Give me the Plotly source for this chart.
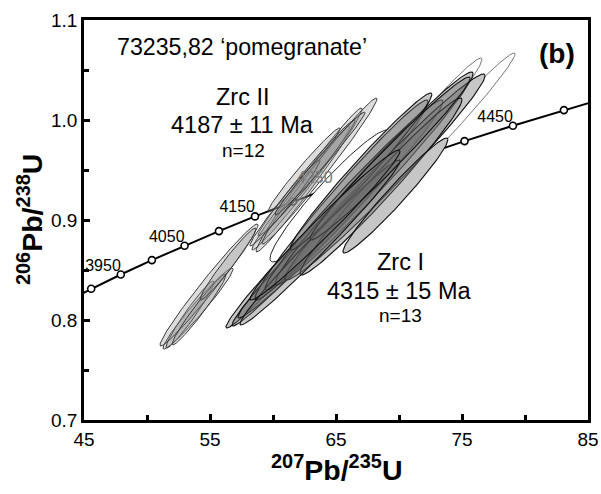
import numpy as np
import plotly.graph_objects as go

FONT = "Arial, 'Liberation Sans', Helvetica, sans-serif"

# Concordia reference points: age (Ma) and the matching isotope ratios
conc_age = [3850, 3900, 3950, 4000, 4050, 4100, 4150, 4200, 4250,
            4300, 4350, 4400, 4450, 4500, 4550]
conc_pb7u5 = [43.33, 45.57, 47.92, 50.39, 52.98, 55.71, 58.57, 61.58, 64.73,
              68.05, 71.54, 75.20, 79.04, 83.09, 87.33]
conc_pb6u8 = [0.8171, 0.8312, 0.8455, 0.8599, 0.8743, 0.8889, 0.9036, 0.9185, 0.9334,
              0.9485, 0.9636, 0.9789, 0.9943, 1.0099, 1.0255]
labelled_ages = [3950, 4050, 4150, 4250, 4450]
label_colors = ["black", "black", "black", "#7a7a7a", "black"]

# Zrc II analyses: 207Pb/235U, error, 206Pb/238U, error, error correlation
zrc2_pb7u5 = [54.05, 53.41, 54.92, 54.13, 62.22, 62.86, 63.69, 62.46, 62.66, 60.95, 63.73, 56.43]
zrc2_pb7u5_err = [2.78, 1.90, 3.89, 2.14, 3.89, 4.21, 4.56, 2.86, 3.85, 2.78, 3.57, 2.22]
zrc2_pb6u8 = [0.8115, 0.8055, 0.835, 0.8105, 0.932, 0.940, 0.949, 0.950, 0.942, 0.917, 0.9565, 0.856]
zrc2_pb6u8_err = [0.0405, 0.0335, 0.061, 0.0355, 0.062, 0.072, 0.073, 0.042, 0.058, 0.043, 0.0515, 0.036]
zrc2_rho = [0.974, 0.967, 0.983, 0.9725, 0.988, 0.9865, 0.988, 0.983, 0.987, 0.983, 0.989, 0.974]

# Zrc I analyses
zrc1_pb7u5 = [60.40, 61.83, 63.25, 65.44, 66.43, 68.02, 68.89, 68.57, 69.72, 63.73, 66.98, 69.29, 64.13]
zrc1_pb7u5_err = [4.13, 5.08, 6.03, 6.87, 7.06, 7.86, 7.94, 6.43, 4.17, 6.35, 5.63, 6.35, 5.95]
zrc1_pb6u8 = [0.8485, 0.862, 0.8785, 0.920, 0.925, 0.9415, 0.943, 0.9335, 0.9245, 0.8775, 0.9485, 0.9615, 0.895]
zrc1_pb6u8_err = [0.0565, 0.068, 0.0765, 0.100, 0.095, 0.1065, 0.103, 0.0885, 0.0575, 0.0825, 0.0785, 0.0815, 0.075]
zrc1_rho = [0.983, 0.985, 0.986, 0.983, 0.983, 0.984, 0.983, 0.980, 0.973, 0.987, 0.982, 0.9845, 0.984]

# Analyses excluded from both ages
excl_pb7u5 = [64.52, 71.75, 74.25]
excl_pb7u5_err = [4.76, 4.84, 4.96]
excl_pb6u8 = [0.924, 0.991, 0.9985]
excl_pb6u8_err = [0.066, 0.071, 0.0685]
excl_rho = [0.949, 0.981, 0.985]


def ellipse(cx, ex, cy, ey, rho, n=120):
    t = np.linspace(0, 2 * np.pi, n)
    x = cx + ex * np.cos(t)
    y = cy + ey * (rho * np.cos(t) + np.sqrt(1 - rho ** 2) * np.sin(t))
    return x, y


fig = go.Figure()

# Concordia curve with 50 Ma markers
fig.add_trace(go.Scatter(
    x=conc_pb7u5, y=conc_pb6u8, mode="lines+markers",
    line=dict(color="black", width=2),
    marker=dict(symbol="circle", size=7, color="white",
                line=dict(color="black", width=1.6)),
    hoverinfo="skip"))

# Excluded analyses
for i in range(len(excl_pb7u5)):
    x, y = ellipse(excl_pb7u5[i], excl_pb7u5_err[i], excl_pb6u8[i], excl_pb6u8_err[i], excl_rho[i])
    if i == 0:
        fig.add_trace(go.Scatter(x=x, y=y, mode="lines", fill="toself",
                                 fillcolor="white", line=dict(color="#222222", width=1),
                                 hoverinfo="skip"))
    else:
        fig.add_trace(go.Scatter(x=x, y=y, mode="lines",
                                 line=dict(color="#666666", width=0.9),
                                 hoverinfo="skip"))

# Zrc II ellipses
for i in range(len(zrc2_pb7u5)):
    x, y = ellipse(zrc2_pb7u5[i], zrc2_pb7u5_err[i], zrc2_pb6u8[i], zrc2_pb6u8_err[i], zrc2_rho[i])
    fig.add_trace(go.Scatter(x=x, y=y, mode="lines", fill="toself",
                             fillcolor="rgba(150,150,150,0.32)",
                             line=dict(color="#3a3a3a", width=1),
                             hoverinfo="skip"))

# Concordia age labels
lab_x = [conc_pb7u5[conc_age.index(a)] for a in labelled_ages]
lab_y = [conc_pb6u8[conc_age.index(a)] for a in labelled_ages]
fig.add_trace(go.Scatter(
    x=lab_x, y=lab_y, mode="text", text=[str(a) for a in labelled_ages],
    textposition="top left",
    textfont=dict(family=FONT, size=16, color=label_colors),
    hoverinfo="skip"))

# Zrc I ellipses: opaque backing first, then translucent fills
zrc1_shapes = [ellipse(zrc1_pb7u5[i], zrc1_pb7u5_err[i], zrc1_pb6u8[i],
                       zrc1_pb6u8_err[i], zrc1_rho[i]) for i in range(len(zrc1_pb7u5))]
for x, y in zrc1_shapes:
    fig.add_trace(go.Scatter(x=x, y=y, mode="lines", fill="toself",
                             fillcolor="white", line=dict(width=0),
                             hoverinfo="skip"))
for x, y in zrc1_shapes:
    fig.add_trace(go.Scatter(x=x, y=y, mode="lines", fill="toself",
                             fillcolor="rgba(112,112,112,0.4)",
                             line=dict(color="#111111", width=1.1),
                             hoverinfo="skip"))

axis_common = dict(showgrid=False, zeroline=False, showline=True, linecolor="black",
                   linewidth=2.5, mirror=True, ticks="inside", ticklen=6, tickwidth=2.5,
                   tickcolor="black", automargin=False,
                   tickfont=dict(family=FONT, size=19, color="black"))

fig.update_layout(
    width=601, height=494,
    margin=dict(l=84, r=13, t=20, b=74, autoexpand=False),
    paper_bgcolor="white", plot_bgcolor="white",
    showlegend=False,
    xaxis=dict(range=[45, 85], tickvals=[45, 55, 65, 75, 85],
               minor=dict(tickvals=[50, 60, 70, 80], ticks="inside", ticklen=5,
                          tickwidth=2.5, tickcolor="black"),
               **axis_common),
    yaxis=dict(range=[0.7, 1.1], tickvals=[0.7, 0.8, 0.9, 1.0, 1.1],
               ticktext=["0.7", "0.8", "0.9", "1.0", "1.1"],
               minor=dict(tickvals=[0.75, 0.85, 0.95, 1.05], ticks="inside", ticklen=5,
                          tickwidth=2.5, tickcolor="black"),
               **axis_common),
)

big = dict(family=FONT, size=23.5, color="black")
notes = [
    dict(x=47.46, y=1.073, text="73235,82 \u2018pomegranate\u2019", xanchor="left",
         font=dict(family=FONT, size=23.2, color="black")),
    dict(x=84.15, y=1.067, text="<b>(b)</b>", xanchor="right",
         font=dict(family=FONT, size=28, color="black")),
    dict(x=57.58, y=1.023, text="Zrc II", font=big),
    dict(x=57.58, y=0.9955, text="4187 \u00b1 11 Ma", font=big),
    dict(x=57.62, y=0.970, text="n=12", font=dict(family=FONT, size=19, color="black")),
    dict(x=70.08, y=0.858, text="Zrc I", font=big),
    dict(x=70.0, y=0.8295, text="4315 \u00b1 15 Ma", font=big),
    dict(x=70.08, y=0.805, text="n=13", font=dict(family=FONT, size=19, color="black")),
]
for n in notes:
    fig.add_annotation(xref="x", yref="y", showarrow=False, yanchor="middle",
                       **{k: v for k, v in n.items()})

fig.add_annotation(xref="paper", yref="paper", x=0.5, y=-0.12, showarrow=False,
                   xanchor="center", yanchor="middle",
                   text="<b><sup>207</sup>Pb/<sup>235</sup>U</b>",
                   font=dict(family=FONT, size=28.5, color="black"))
fig.add_annotation(xref="paper", yref="paper", x=-0.107, y=0.5, showarrow=False,
                   xanchor="center", yanchor="middle", textangle=-90,
                   text="<b><sup>206</sup>Pb/<sup>238</sup>U</b>",
                   font=dict(family=FONT, size=28.5, color="black"))

fig.write_html("out.html", config={"displayModeBar": False})
